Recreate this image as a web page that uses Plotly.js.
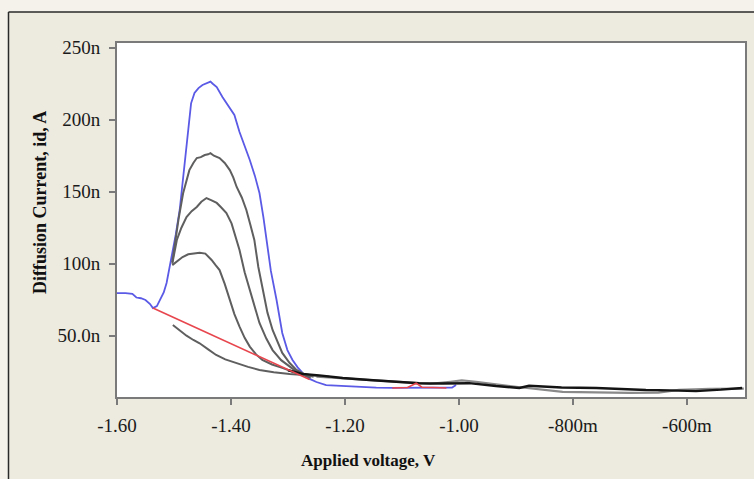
<!DOCTYPE html>
<html>
<head>
<meta charset="utf-8">
<script src="https://cdn.plot.ly/plotly-3.0.1.min.js"></script>
<style>html,body{margin:0;padding:0;background:#EDEADF;}#chart{width:754px;height:479px;}</style>
</head>
<body>
<div id="chart"></div>
<script>
// ---- data (voltage in V, current in nA) ----
const blueV = [-1.600,-1.585,-1.573,-1.566,-1.558,-1.550,-1.542,-1.537,-1.530,-1.525,-1.518,-1.513,-1.505,-1.497,-1.490,-1.485,-1.481,-1.475,-1.470,-1.464,-1.457,-1.450,-1.443,-1.436,-1.432,-1.425,-1.415,-1.405,-1.394,-1.385,-1.376,-1.367,-1.358,-1.350,-1.343,-1.336,-1.330,-1.320,-1.310,-1.301,-1.292,-1.283,-1.274,-1.262,-1.250,-1.233,-1.205,-1.175,-1.145,-1.117,-1.070,-1.029,-1.012,-1.005];
const blueI = [79.6,79.6,79.0,76.5,76.0,74.8,72.0,69.2,70.5,74.8,80.0,86.6,102.6,120.0,137.3,155.0,172.0,195.0,211.4,218.6,222.0,224.1,225.5,226.5,225.0,222.7,215.8,210.0,203.3,191.5,182.0,172.0,161.0,149.1,132.0,112.0,95.0,74.8,51.9,40.0,33.1,28.0,24.0,20.0,17.8,15.7,15.0,14.4,13.9,13.7,13.7,13.7,14.0,15.7];

const grayAV = [-1.503,-1.499,-1.492,-1.484,-1.478,-1.473,-1.466,-1.460,-1.453,-1.446,-1.440,-1.436,-1.430,-1.420,-1.411,-1.402,-1.396,-1.390,-1.381,-1.373,-1.366,-1.359,-1.352,-1.345,-1.336,-1.327,-1.318,-1.310,-1.297,-1.285,-1.270,-1.255];
const grayAI = [101.0,111.8,131.0,148.9,158.0,165.0,170.0,173.4,174.0,175.5,176.0,176.8,175.0,173.4,170.0,165.0,160.0,153.3,146.0,137.3,127.0,116.5,97.7,84.0,66.0,54.0,45.0,38.0,31.0,26.2,23.0,21.5];

const grayBV = [-1.503,-1.495,-1.487,-1.478,-1.469,-1.460,-1.452,-1.443,-1.434,-1.425,-1.417,-1.408,-1.399,-1.390,-1.385,-1.376,-1.367,-1.358,-1.350,-1.338,-1.327,-1.312,-1.297,-1.285,-1.274,-1.260];
const grayBI = [100.0,116.5,125.0,132.4,136.5,139.4,143.0,145.6,144.0,142.2,139.0,135.2,128.0,116.5,109.5,94.0,81.7,69.0,58.8,48.0,40.0,33.0,28.3,25.0,22.7,21.0];

const grayCV = [-1.503,-1.494,-1.485,-1.475,-1.464,-1.455,-1.445,-1.434,-1.427,-1.420,-1.411,-1.402,-1.394,-1.385,-1.376,-1.367,-1.356,-1.345,-1.328,-1.310,-1.295,-1.280,-1.260];
const grayCI = [99.0,101.5,104.6,106.5,107.4,107.6,107.0,102.6,99.0,95.6,86.0,74.8,65.0,56.3,48.5,42.4,37.0,33.1,30.0,27.6,25.5,24.0,22.5];

const lowV = [-1.502,-1.490,-1.478,-1.466,-1.455,-1.440,-1.426,-1.410,-1.391,-1.370,-1.350,-1.325,-1.297,-1.265,-1.227];
const lowI = [57.4,53.5,50.0,47.0,44.7,40.5,36.6,33.5,30.8,28.3,26.2,24.6,23.4,22.4,21.5];

const baseV = [-1.300,-1.275,-1.245,-1.204,-1.157,-1.110,-1.070,-1.030,-0.982,-0.935,-0.894,-0.877,-0.820,-0.759,-0.715,-0.672,-0.630,-0.584,-0.540,-0.503];
const baseI = [26.0,23.5,22.4,20.6,19.2,18.0,17.0,16.8,17.0,15.0,13.7,15.2,14.0,13.7,12.8,12.3,12.0,11.5,12.5,13.7];

const tailV = [-1.250,-1.150,-1.050,-1.015,-0.995,-0.970,-0.900,-0.818,-0.760,-0.701,-0.650,-0.614,-0.560,-0.500];
const tailI = [21.5,19.0,16.5,18.0,19.0,18.0,14.5,11.0,10.5,10.2,10.5,12.3,13.0,13.2];

const redV = [-1.537,-1.262,null,-1.117,-1.090,-1.075,-1.065,-1.045,-1.022];
const redI = [69.2,19.5,null,13.7,14.0,17.0,14.2,14.0,13.7];

const xTickVals = [-1.6,-1.4,-1.2,-1.0,-0.8,-0.6];
const xTickText = ['-1.60','-1.40','-1.20','-1.00','-800m','-600m'];
const yTickVals = [50,100,150,200,250];
const yTickText = ['50.0n','100n','150n','200n','250n'];

// ---- layout geometry ----
const W = 754, H = 479, L = 117, R = 9, T = 43, B = 82;
const PW = W - L - R, PH = H - T - B;
const px = p => (p - L) / PW;
const py = p => (H - B - p) / PH;

const grayCol = '#5f5f5f';
const traces = [
  {x: blueV, y: blueI, mode: 'lines', line: {color: '#5a5ae6', width: 1.8}},
  {x: tailV, y: tailI, mode: 'lines', line: {color: '#8a8a8a', width: 2.2}},
  {x: grayAV, y: grayAI, mode: 'lines', line: {color: grayCol, width: 2}},
  {x: grayBV, y: grayBI, mode: 'lines', line: {color: grayCol, width: 2}},
  {x: grayCV, y: grayCI, mode: 'lines', line: {color: grayCol, width: 2}},
  {x: lowV, y: lowI, mode: 'lines', line: {color: grayCol, width: 2}},
  {x: baseV, y: baseI, mode: 'lines', line: {color: '#141414', width: 2.4}},
  {x: redV, y: redI, mode: 'lines', connectgaps: false, line: {color: '#e8464e', width: 1.6}}
];

const tickFont = {family: '"Liberation Serif", "DejaVu Serif", serif', size: 19, color: '#1a1a1a'};
const titleFont = {family: '"Liberation Serif", "DejaVu Serif", serif', size: 17, color: '#111'};

const layout = {
  width: W, height: H,
  margin: {l: L, r: R, t: T, b: B, pad: 0},
  paper_bgcolor: '#EDEADF',
  plot_bgcolor: '#ffffff',
  showlegend: false,
  xaxis: {
    range: [-1.6, -0.498], tickmode: 'array', tickvals: xTickVals, ticktext: xTickText,
    showgrid: false, zeroline: false, showline: true, mirror: true,
    linecolor: '#7a7a7a', linewidth: 2, ticks: 'outside', ticklen: 6, tickwidth: 2, tickcolor: '#7a7a7a',
    tickfont: tickFont, ticklabelstandoff: 4
  },
  yaxis: {
    range: [7.4, 253.3], tickmode: 'array', tickvals: yTickVals, ticktext: yTickText,
    showgrid: false, zeroline: false, showline: true, mirror: true,
    linecolor: '#7a7a7a', linewidth: 2, ticks: 'outside', ticklen: 6, tickwidth: 2, tickcolor: '#7a7a7a',
    tickfont: tickFont, ticklabelstandoff: 5
  },
  shapes: [
    {type: 'rect', xref: 'paper', yref: 'paper', x0: px(-5), x1: px(W + 5), y0: py(12), y1: py(-5), fillcolor: '#F4F2EA', line: {width: 0}, layer: 'below'},
    {type: 'rect', xref: 'paper', yref: 'paper', x0: px(-5), x1: px(8.5), y0: py(H + 5), y1: py(12), fillcolor: '#F4F2EA', line: {width: 0}, layer: 'below'},
    {type: 'line', xref: 'paper', yref: 'paper', x0: px(8.5), x1: px(W + 5), y0: py(12), y1: py(12), line: {color: '#2a2a2a', width: 1.5}},
    {type: 'line', xref: 'paper', yref: 'paper', x0: px(8.5), x1: px(8.5), y0: py(12), y1: py(H + 5), line: {color: '#2a2a2a', width: 1.5}}
  ],
  annotations: [
    {xref: 'paper', yref: 'paper', x: px(368), y: py(460), text: '<b>Applied voltage, V</b>', showarrow: false, font: titleFont, xanchor: 'center', yanchor: 'middle'},
    {xref: 'paper', yref: 'paper', x: px(40), y: py(203), text: '<b>Diffusion Current, id, A</b>', showarrow: false, font: Object.assign({}, titleFont, {size: 18}), textangle: -90, xanchor: 'center', yanchor: 'middle'}
  ]
};

Plotly.newPlot('chart', traces, layout, {staticPlot: true, displayModeBar: false});
</script>
</body>
</html>
